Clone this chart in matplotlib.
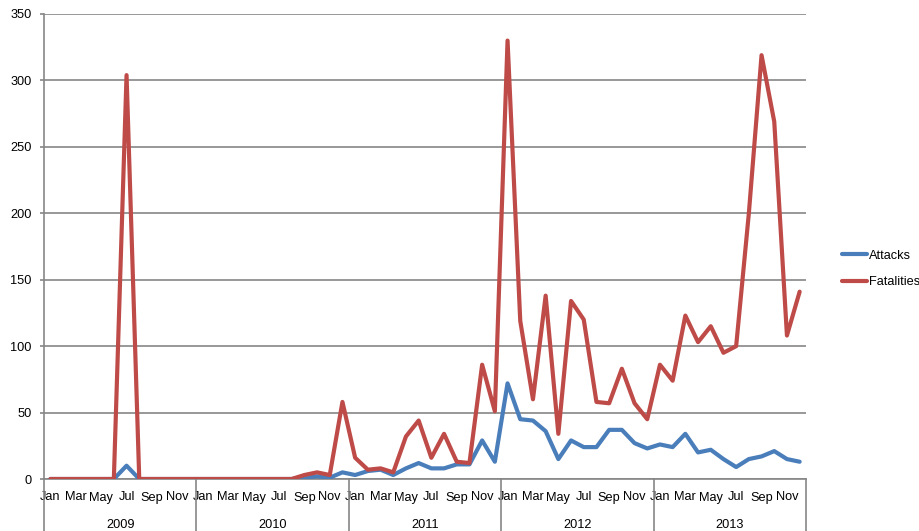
import matplotlib
matplotlib.use("Agg")
import matplotlib.pyplot as plt
import numpy as np

# ====== DONNÉES ======
years = ["2009", "2010", "2011", "2012", "2013"]
months = ["Jan", "Feb", "Mar", "Apr", "May", "Jun",
          "Jul", "Aug", "Sep", "Oct", "Nov", "Dec"]

attacks_2009 = [0, 0, 0, 0, 0, 0, 10, 0, 0, 0, 0, 0]
attacks_2010 = [0, 0, 0, 0, 0, 0, 0, 0, 1, 2, 1, 5]
attacks_2011 = [3, 6, 7, 3, 8, 12, 8, 8, 11, 11, 29, 13]
attacks_2012 = [72, 45, 44, 36, 15, 29, 24, 24, 37, 37, 27, 23]
attacks_2013 = [26, 24, 34, 20, 22, 15, 9, 15, 17, 21, 15, 13]

fatalities_2009 = [0, 0, 0, 0, 0, 0, 304, 0, 0, 0, 0, 0]
fatalities_2010 = [0, 0, 0, 0, 0, 0, 0, 0, 3, 5, 3, 58]
fatalities_2011 = [16, 7, 8, 5, 32, 44, 16, 34, 13, 12, 86, 51]
fatalities_2012 = [330, 119, 60, 138, 34, 134, 120, 58, 57, 83, 57, 45]
fatalities_2013 = [86, 74, 123, 103, 115, 95, 100, 200, 319, 269, 108, 141]

attacks = attacks_2009 + attacks_2010 + attacks_2011 + attacks_2012 + attacks_2013
fatalities = (fatalities_2009 + fatalities_2010 + fatalities_2011
              + fatalities_2012 + fatalities_2013)

y_ticks = [0, 50, 100, 150, 200, 250, 300, 350]

# ====== STYLE ======
plt.rcParams['font.family'] = ['Liberation Sans', 'DejaVu Sans']
plt.rcParams['font.size'] = 9.2
grey = '#868686'
blue = '#4A7EBB'
red = '#BE4B48'

W, H = 920, 531
fig = plt.figure(figsize=(W / 100, H / 100), dpi=100)
left, right, top, bottom = 44, 806, 14, 479
ax = fig.add_axes([left / W, (H - bottom) / H, (right - left) / W, (bottom - top) / H])

x = np.arange(len(attacks))
ax.plot(x, attacks, color=blue, linewidth=3.0, label='Attacks',
        solid_capstyle='round', solid_joinstyle='round', zorder=3)
ax.plot(x, fatalities, color=red, linewidth=3.0, label='Fatalities',
        solid_capstyle='round', solid_joinstyle='round', zorder=4)

ax.set_xlim(-0.5, len(x) - 0.5)
ax.set_ylim(0, 350)
ax.set_yticks(y_ticks)
ax.yaxis.grid(True, color=grey, linewidth=1.2)
ax.set_axisbelow(True)

for s in ['top', 'right']:
    ax.spines[s].set_visible(False)
for s in ['left', 'bottom']:
    ax.spines[s].set_color(grey)
    ax.spines[s].set_linewidth(1.2)

ax.tick_params(axis='y', length=3, width=1.2, color=grey, pad=6)

# étiquettes des mois (un sur deux)
month_labels = [months[i % 12] for i in range(len(x))]
ax.set_xticks(x[::2])
ax.set_xticklabels(month_labels[::2])
ax.tick_params(axis='x', length=0, pad=9)

# années + séparateurs
trans = ax.get_xaxis_transform()
bottom_frac = -(H - bottom) / (bottom - top)
for k in range(len(years) + 1):
    xb = k * 12 - 0.5
    ax.plot([xb, xb], [0, bottom_frac], color=grey, linewidth=1.2,
            transform=trans, clip_on=False)
for k, yr in enumerate(years):
    ax.text(k * 12 + 5.5, -(525 - bottom) / (bottom - top), yr, transform=trans,
            ha='center', va='center')

ax.legend(loc='center left', bbox_to_anchor=((836 - left) / (right - left),
                                             (bottom - 269) / (bottom - top)),
          frameon=False, borderpad=0, handlelength=1.9, handletextpad=0.2,
          labelspacing=1.15)

fig.savefig('out.png', dpi=100)
